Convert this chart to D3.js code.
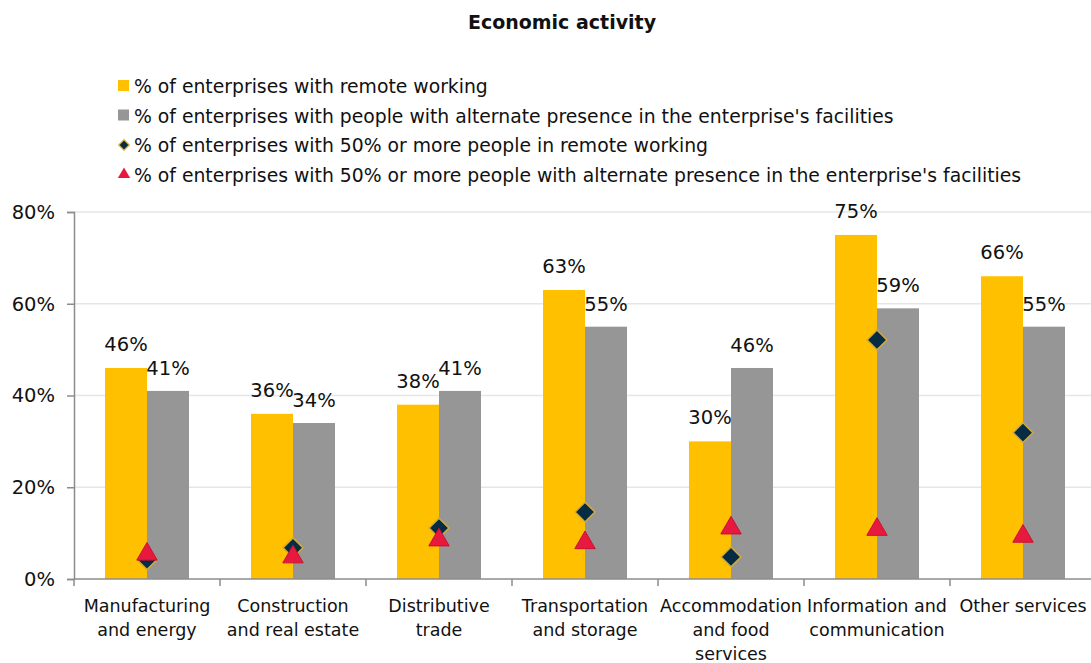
<!DOCTYPE html>
<html>
<head>
<meta charset="utf-8">
<script src="https://cdn.jsdelivr.net/npm/d3@7"></script>
<style>
  body { margin: 0; background: #fff; }
  text { font-family: "DejaVu Sans", Verdana, sans-serif; fill: #111; }
</style>
</head>
<body>
<script>
// data
var categories = ["Manufacturing\nand energy", "Construction\nand real estate", "Distributive\ntrade",
  "Transportation\nand storage", "Accommodation\nand food\nservices", "Information and\ncommunication", "Other services"];
var remote = [46, 36, 38, 63, 30, 75, 66];
var alternate = [41, 34, 41, 55, 46, 59, 55];
var remote50 = [4.2, 6.8, 11.1, 14.6, 4.8, 52.1, 31.9];
var alternate50 = [5.4, 4.8, 8.5, 7.9, 11.1, 10.8, 9.3];
var yTicks = [0, 20, 40, 60, 80];
var legendLabels = [
  "% of enterprises with remote working",
  "% of enterprises with people with alternate presence in the enterprise's facilities",
  "% of enterprises with 50% or more people in remote working",
  "% of enterprises with 50% or more people with alternate presence in the enterprise's facilities"
];

var W = 1091, H = 663;
var margin = {left: 74, top: 212, bottom: 84};
var plotW = 146 * 7, plotH = H - margin.top - margin.bottom;

var svg = d3.select("body").append("svg")
    .attr("width", W)
    .attr("height", H);

// title
svg.append("text")
    .attr("x", 562)
    .attr("y", 29)
    .attr("text-anchor", "middle")
    .style("font-weight", "bold")
    .style("font-size", "19px")
    .text("Economic activity");

var x = d3.scaleBand().domain(d3.range(categories.length)).range([0, plotW]);
var y = d3.scaleLinear().domain([0, 80]).range([plotH, 0]);
var barW = 42;

var g = svg.append("g")
    .attr("transform", "translate(" + margin.left + "," + margin.top + ")");

// gridlines
g.selectAll(".grid")
    .data(yTicks.slice(1))
    .enter().append("line")
    .attr("x1", 0).attr("x2", W - margin.left)
    .attr("y1", function(d) { return y(d); })
    .attr("y2", function(d) { return y(d); })
    .attr("stroke", "#e6e6e6")
    .attr("stroke-width", 1.5);

// bars
var cat = g.selectAll(".cat")
    .data(categories)
    .enter().append("g")
    .attr("transform", function(d, i) { return "translate(" + (x(i) + x.bandwidth() / 2) + ",0)"; });

cat.append("rect")
    .attr("x", -barW)
    .attr("width", barW)
    .attr("y", function(d, i) { return y(remote[i]); })
    .attr("height", function(d, i) { return plotH - y(remote[i]); })
    .attr("fill", "#ffc000");

cat.append("rect")
    .attr("x", 0)
    .attr("width", barW)
    .attr("y", function(d, i) { return y(alternate[i]); })
    .attr("height", function(d, i) { return plotH - y(alternate[i]); })
    .attr("fill", "#969696");

// value labels
cat.append("text")
    .attr("x", -barW / 2)
    .attr("y", function(d, i) { return y(remote[i]) - 17; })
    .attr("text-anchor", "middle")
    .style("font-size", "19.5px")
    .text(function(d, i) { return remote[i] + "%"; });

cat.append("text")
    .attr("x", barW / 2)
    .attr("y", function(d, i) { return y(alternate[i]) - 16; })
    .attr("text-anchor", "middle")
    .style("font-size", "19.5px")
    .text(function(d, i) { return alternate[i] + "%"; });

// markers
var diamond = d3.symbol().type(d3.symbolDiamond2).size(250);
var triangle = d3.symbol().type(d3.symbolTriangle).size(180);

cat.append("path")
    .attr("d", diamond)
    .attr("transform", function(d, i) { return "translate(0," + y(remote50[i]) + ")"; })
    .attr("fill", "#062c43")
    .attr("stroke", "#d4aa3a")
    .attr("stroke-width", 1.5);

cat.append("path")
    .attr("d", triangle)
    .attr("transform", function(d, i) { return "translate(0," + y(alternate50[i]) + ")"; })
    .attr("fill", "#e8193f")
    .attr("stroke", "#c9102f")
    .attr("stroke-width", 1);

// axes
var yAxis = g.append("g")
    .call(d3.axisLeft(y).tickValues(yTicks).tickSize(7).tickFormat(function(d) { return d + "%"; }));
yAxis.select(".domain").attr("stroke", "#8c8c8c").attr("stroke-width", 1.5);
yAxis.selectAll(".tick line").attr("stroke", "#8c8c8c").attr("stroke-width", 1.5);
yAxis.selectAll(".tick text")
    .attr("x", -19)
    .style("font-size", "19.5px")
    .style("font-family", "DejaVu Sans")
    .attr("fill", "#111");

var xAxisG = g.append("g").attr("transform", "translate(0," + plotH + ")");
xAxisG.append("line")
    .attr("x1", 0).attr("x2", W - margin.left)
    .attr("stroke", "#8c8c8c").attr("stroke-width", 1.5);
xAxisG.selectAll(".xtick")
    .data(d3.range(categories.length + 1))
    .enter().append("line")
    .attr("x1", function(i) { return i * x.step(); })
    .attr("x2", function(i) { return i * x.step(); })
    .attr("y1", 0).attr("y2", 7)
    .attr("stroke", "#8c8c8c").attr("stroke-width", 1.5);

xAxisG.selectAll(".xlabel")
    .data(categories)
    .enter().append("text")
    .attr("text-anchor", "middle")
    .style("font-size", "17.5px")
    .attr("transform", function(d, i) { return "translate(" + (x(i) + x.bandwidth() / 2) + ",33)"; })
    .selectAll("tspan")
    .data(function(d) { return d.split("\n"); })
    .enter().append("tspan")
    .attr("x", 0)
    .attr("dy", function(d, j) { return j === 0 ? 0 : 24; })
    .text(function(d) { return d; });

// legend
var legend = svg.append("g").attr("transform", "translate(124,86)");
var leg = legend.selectAll(".leg")
    .data(legendLabels)
    .enter().append("g")
    .attr("transform", function(d, i) { return "translate(0," + (i * 29.5) + ")"; });

leg.append("text")
    .attr("x", 10)
    .attr("y", 7)
    .style("font-size", "18.8px")
    .text(function(d) { return d; });

leg.filter(function(d, i) { return i < 2; }).append("rect")
    .attr("x", -6).attr("y", -6)
    .attr("width", 11).attr("height", 11)
    .attr("fill", function(d, i) { return i === 0 ? "#ffc000" : "#969696"; });

leg.filter(function(d, i) { return i === 2; }).append("path")
    .attr("d", d3.symbol().type(d3.symbolDiamond2).size(70))
    .attr("fill", "#062c43")
    .attr("stroke", "#d4aa3a")
    .attr("stroke-width", 1.2);

leg.filter(function(d, i) { return i === 3; }).append("path")
    .attr("d", d3.symbol().type(d3.symbolTriangle).size(65))
    .attr("fill", "#e8193f");
</script>
</body>
</html>
